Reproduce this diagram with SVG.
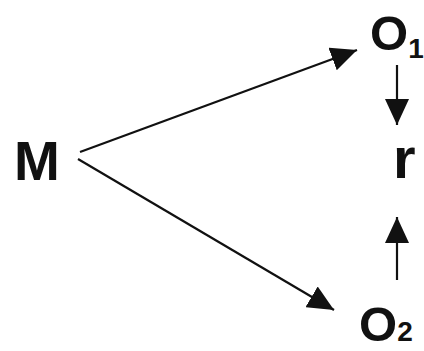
<svg xmlns="http://www.w3.org/2000/svg" width="424" height="351" viewBox="0 0 424 351">
<style>
.t{font-family:"Liberation Sans",Arial,sans-serif;font-weight:bold;fill:#111}
.c{stroke:#111;stroke-width:2.2;fill:none}
</style>
<defs>
<marker id="ah" markerUnits="userSpaceOnUse" markerWidth="28" markerHeight="24" viewBox="0 0 28 24" refX="26" refY="12" orient="auto">
<path d="M0,0 L26,12 L0,24 Z" fill="#111"/>
</marker>
</defs>
<rect width="424" height="351" fill="#fff"/>
<g id="connectors">
<line class="c" x1="80" y1="152" x2="357" y2="50" marker-end="url(#ah)"/>
<line class="c" x1="78" y1="159" x2="334" y2="310" marker-end="url(#ah)"/>
<line class="c" x1="397" y1="65" x2="397" y2="125" marker-end="url(#ah)"/>
<line class="c" x1="397" y1="280" x2="397" y2="217" marker-end="url(#ah)"/>
</g>
<g id="M"><text class="t" x="14" y="180" font-size="55">M</text></g>
<g id="O1"><text class="t" x="370" y="50" font-size="49">O<tspan font-size="28" dy="8">1</tspan></text></g>
<g id="r"><text class="t" x="393" y="178" font-size="58">r</text></g>
<g id="O2"><text class="t" x="359" y="341" font-size="49">O<tspan font-size="28">2</tspan></text></g>
</svg>
